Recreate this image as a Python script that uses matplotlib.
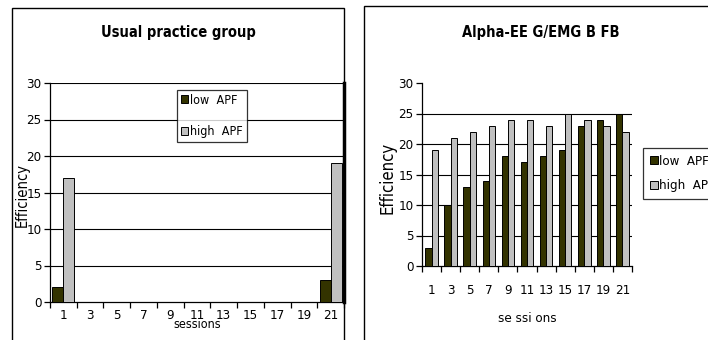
import matplotlib
matplotlib.use("Agg")
import matplotlib.pyplot as plt
import numpy as np
from matplotlib.patches import Rectangle
from matplotlib import font_manager

# pick a narrow sans face when one is installed
_fonts = font_manager.fontManager.ttflist
_names = {f.name for f in _fonts}
if "Liberation Sans Narrow" in _names:
    plt.rcParams['font.family'] = ['Liberation Sans Narrow', 'DejaVu Sans']
elif any(f.name == "DejaVu Sans" and "Condensed" in f.fname for f in _fonts):
    plt.rcParams['font.family'] = ['DejaVu Sans']
    plt.rcParams['font.stretch'] = 'condensed'
elif "Roboto Condensed" in _names:
    plt.rcParams['font.family'] = ['Roboto Condensed', 'DejaVu Sans']
else:
    plt.rcParams['font.family'] = ['Liberation Sans', 'DejaVu Sans']

sessions = ["1", "3", "5", "7", "9", "11", "13", "15", "17", "19", "21"]
series_names = ["low  APF", "high  APF"]

# Usual practice group: only first and last sessions measured
usual_low = [2, None, None, None, None, None, None, None, None, None, 3]
usual_high = [17, None, None, None, None, None, None, None, None, None, 19]

# Alpha-EEG/EMG BFB group
bfb_low = [3, 10, 13, 14, 18, 17, 18, 19, 23, 24, 25]
bfb_high = [19, 21, 22, 23, 24, 24, 23, 25, 24, 23, 22]

yticks = [0, 5, 10, 15, 20, 25, 30]

DARK = "#333300"
LIGHT = "#c0c0c0"

W, H = 708, 340
fig = plt.figure(figsize=(W / 100, H / 100), dpi=100)


def fx(px):
    return px / W


def fy(py):
    return 1 - py / H


# panel frames
fig.patches.append(Rectangle((fx(12), fy(360)), fx(344) - fx(12), fy(8) - fy(360),
                             transform=fig.transFigure, fill=False, ec="black", lw=1.0))
fig.patches.append(Rectangle((fx(364), fy(360)), fx(760) - fx(364), fy(5.5) - fy(360),
                             transform=fig.transFigure, fill=False, ec="black", lw=1.0))


def draw(ax, low, high, width, grid_top, xpad):
    x = np.arange(len(sessions))
    lo = [np.nan if v is None else v for v in low]
    hi = [np.nan if v is None else v for v in high]
    b1 = ax.bar(x - width / 2, lo, width, color=DARK, edgecolor="black", lw=0.7,
                label=series_names[0], zorder=3)
    b2 = ax.bar(x + width / 2, hi, width, color=LIGHT, edgecolor="black", lw=0.7,
                label=series_names[1], zorder=3)
    ax.set_xlim(-0.5, len(sessions) - 0.5)
    ax.set_ylim(0, 30)
    ax.set_yticks(yticks)
    ax.set_yticklabels([str(v) for v in yticks], fontsize=9.5)
    ax.set_xticks(x)
    ax.set_xticklabels(sessions, fontsize=9.5)
    ax.set_xticks(np.arange(len(sessions) + 1) - 0.5, minor=True)
    ax.tick_params(axis="x", which="major", length=0, pad=xpad)
    ax.tick_params(axis="x", which="minor", length=4, width=0.9, direction="out")
    ax.tick_params(axis="y", length=4, width=0.9, direction="out", pad=2)
    for v in yticks[1:]:
        if v == 30 and not grid_top:
            continue
        ax.axhline(v, color="black", lw=0.8, zorder=1)
    ax.spines["top"].set_visible(False)
    for s in ("left", "bottom"):
        ax.spines[s].set_linewidth(0.9)
    return b1, b2


# left panel
ax1 = fig.add_axes([fx(50), fy(302), fx(344) - fx(50), fy(83) - fy(302)])
h1 = draw(ax1, usual_low, usual_high, 0.41, True, 5)
ax1.spines["right"].set_linewidth(2.5)
fig.text(fx(178), fy(33), "Usual practice group", ha="center", va="center",
         fontsize=10.5, fontweight="bold")
fig.text(fx(22), fy(195), "Efficiency", rotation=90, ha="center", va="center", fontsize=10.5)
fig.text(fx(197), fy(325), "sessions", ha="center", va="center", fontsize=9)
fig.legend(h1, series_names, loc="upper left", bbox_to_anchor=(fx(177), fy(90)),
           fontsize=9, frameon=True, fancybox=False, edgecolor="black",
           handlelength=0.6, handleheight=0.6, handletextpad=0.15,
           borderpad=0.3, labelspacing=1.5, borderaxespad=0).get_frame().set_linewidth(0.9)

# right panel
ax2 = fig.add_axes([fx(422), fy(266), fx(632) - fx(422), fy(83) - fy(266)])
h2 = draw(ax2, bfb_low, bfb_high, 0.33, False, 13)
ax2.spines["right"].set_visible(False)
fig.text(fx(541), fy(32), "Alpha-EE G/EMG B FB", ha="center", va="center",
         fontsize=10.5, fontweight="bold")
fig.text(fx(387), fy(178), "Efficiency", rotation=90, ha="center", va="center", fontsize=12)
fig.text(fx(527), fy(318), "se ssi ons", ha="center", va="center", fontsize=9.5)
fig.legend(h2, series_names, loc="upper left", bbox_to_anchor=(fx(643), fy(148)),
           fontsize=9.5, frameon=True, fancybox=False, edgecolor="black",
           handlelength=0.6, handleheight=0.6, handletextpad=0.15,
           borderpad=0.5, labelspacing=0.9, borderaxespad=0).get_frame().set_linewidth(0.9)

fig.savefig("out.png", dpi=100)
